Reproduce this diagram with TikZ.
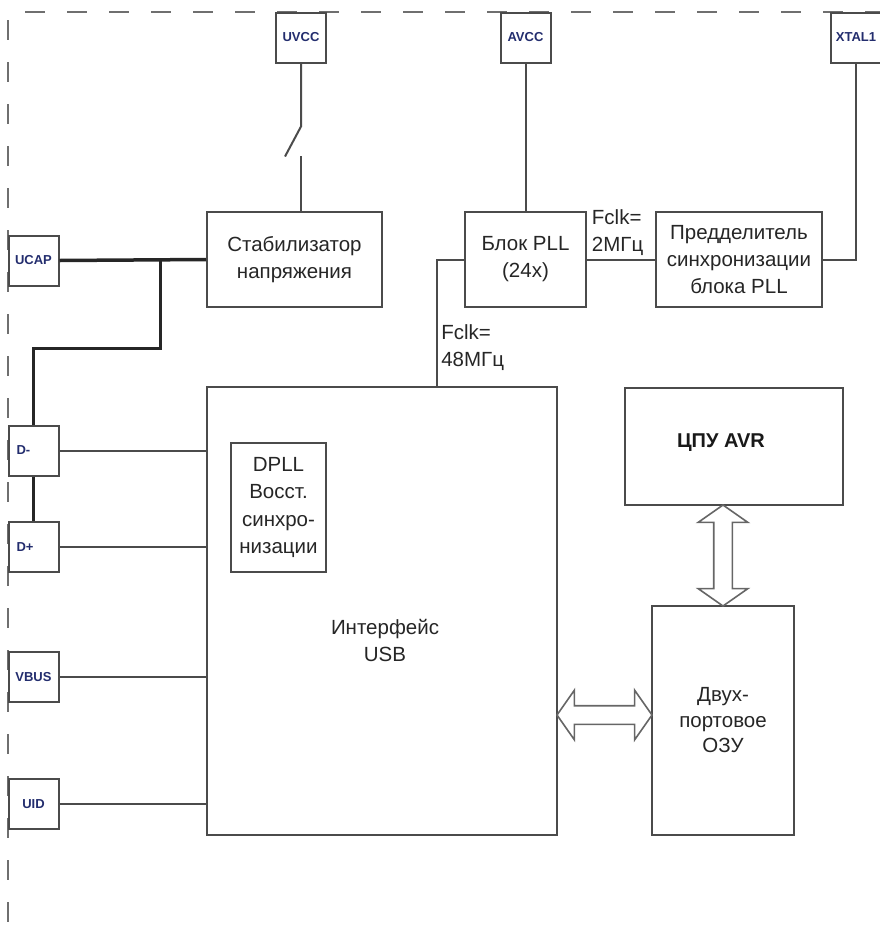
\documentclass[tikz,border=0pt]{standalone}
\usepackage{fontspec}
\setmainfont{Liberation Sans}
\usetikzlibrary{calc,shapes.arrows}

\definecolor{wirecol}{RGB}{75,75,75}
\definecolor{pintext}{RGB}{35,45,110}

\tikzset{
	block/.style={draw=wirecol, line width=2pt, fill=white, align=center, text=black!85,
		font=\fontsize{20.5}{27}\selectfont, inner sep=0pt},
	pin/.style={draw=wirecol, line width=2pt, fill=white, minimum width=50pt, minimum height=50pt,
		inner sep=0pt, font=\fontsize{13}{15}\selectfont\bfseries, text=pintext},
	lbl/.style={align=left, text=black!85, font=\fontsize{20.5}{27}\selectfont},
	conn/.style={draw=wirecol, line width=2pt},
	bus/.style={draw=black!85, line width=3.5pt},
	dblarrow/.style={double arrow, draw=wirecol!85, line width=1.6pt, fill=white, inner sep=8.5pt,
		minimum width=48pt, double arrow head extend=15.5pt, double arrow tip angle=110},
	frame/.style={draw=wirecol!80, line width=1.8pt, dash pattern=on 20pt off 22pt}
}

\begin{document}
\begin{tikzpicture}[x=1pt,y=-1pt]
	\newcommand\pinx{33.5}
	\newcommand\blocky{259.5}
	\useasboundingbox (0,0) rectangle (880,927);
	\draw[frame] (25,12) -- (880,12);
	\draw[frame] (8,20) -- (8,927);

	\node[pin] (uvcc) at (301,37.5) {UVCC};
	\node[pin] (avcc) at (525.5,37.5) {AVCC};
	\node[pin] (xtal) at (856,37.5) {XTAL1};
	\node[pin] (ucap) at (\pinx,260.5) {UCAP};
	\node[pin, text width=34pt, align=left] (dm) at (\pinx,450.5) {D-};
	\node[pin, text width=34pt, align=left] (dp) at (\pinx,547) {D+};
	\node[pin] (vbus) at (\pinx,677) {VBUS};
	\node[pin] (uid) at (\pinx,804) {UID};

	\node[block, minimum width=175pt, minimum height=95pt] (stab) at (294.5,\blocky) {Стабилизатор\\напряжения};
	\node[block, minimum width=121pt, minimum height=95pt] (pll) at (525.5,\blocky) {Блок PLL\\(24x)};
	\node[block, minimum width=166pt, minimum height=95pt] (pre) at (739,\blocky) {Предделитель\\синхронизации\\блока PLL};
	\node[block, minimum width=350pt, minimum height=448pt] (usb) at (382,611) {};
	\node[lbl, align=center] (usbname) at (385,640) {Интерфейс\\USB};
	\node[block, minimum width=95pt, minimum height=129pt, font=\fontsize{20.5}{27.5}\selectfont] (dpll) at (278.5,507.5) {DPLL\\Восст.\\синхро-\\низации};
	\node[block, minimum width=218pt, minimum height=117pt] (cpu) at (734,446.5) {};
	\node[font=\fontsize{20}{24}\selectfont\bfseries, text=black!90] (cpuname) at (721,443) {ЦПУ AVR};
	\node[block, minimum width=142pt, minimum height=229pt, font=\fontsize{20.5}{25.5}\selectfont] (ram) at (723,720.5) {Двух-\\портовое\\ОЗУ};

	\coordinate (swa) at ([yshift=-63pt]uvcc.south);
	\coordinate (swb) at (uvcc.south |- 0,156);
	\draw[conn] (uvcc.south) -- (swa) -- ++(-16,30);
	\draw[conn] (swb) -- (swb |- stab.north);

	\draw[conn] (avcc.south) -- (avcc.south |- pll.north);
	\draw[conn] (xtal.south) |- (pre.east);
	\draw[conn] (pll.east) -- node[lbl, above, pos=0.45] (clk2) {Fclk=\\2МГц} (pre.west);
	\draw[conn] (pll.west) -| node[lbl, right, pos=0.85] (clk48) {Fclk=\\48МГц} ([xshift=55pt]usb.north);

	\coordinate (jct) at ([xshift=101pt]ucap.east);
	\draw[bus] (ucap.east) -- (stab.west);
	\draw[bus] (jct) -- ++(0,88) -| (dm.north);
	\draw[bus] (dm.south) -- (dp.north);

	\foreach \p in {dm,dp,vbus,uid} {
		\draw[conn] (\p.east) -- (\p.east -| usb.west);
	}

	\coordinate (cpubot) at (ram.north |- cpu.south);
	\node[dblarrow, rotate=90, minimum height=101pt] (busv) at ($(cpubot)!0.5!(ram.north)$) {};
	\coordinate (usbr) at (usb.east |- 0,715);
	\coordinate (raml) at (ram.west |- 0,715);
	\node[dblarrow, minimum height=95pt] (bush) at ($(usbr)!0.5!(raml)$) {};
\end{tikzpicture}
\end{document}
